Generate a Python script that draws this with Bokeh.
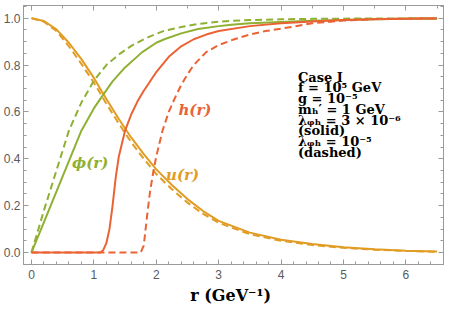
from bokeh.plotting import figure
from bokeh.models import LinearAxis, FixedTicker, PrintfTickFormatter, Label, Range1d
from bokeh.embed import file_html
from bokeh.resources import INLINE

# ---- data ----
u_r = [0, 0.2, 0.4, 0.6, 0.8, 1.0, 1.2, 1.4, 1.6, 1.8, 2.0, 2.25, 2.5, 2.75, 3.0, 3.5, 4.0, 4.5, 5.0, 5.5, 6.0, 6.5]
u_solid = [1.0, 0.988, 0.952, 0.895, 0.825, 0.745, 0.655, 0.57, 0.49, 0.42, 0.355, 0.288, 0.228, 0.177, 0.135, 0.085, 0.055, 0.036, 0.023, 0.014, 0.008, 0.004]
u_dashed = [1.0, 0.985, 0.945, 0.88, 0.805, 0.725, 0.635, 0.55, 0.47, 0.40, 0.335, 0.27, 0.213, 0.165, 0.127, 0.078, 0.05, 0.032, 0.02, 0.012, 0.007, 0.003]

phi_r_s = [0, 0.2, 0.4, 0.6, 0.8, 1.0, 1.12, 1.3, 1.5, 1.77, 2.0, 2.14, 2.4, 2.67, 3.0, 3.2, 3.5, 4.0, 4.5, 5.0, 5.5, 6.0, 6.5]
phi_solid = [0, 0.13, 0.26, 0.39, 0.52, 0.615, 0.662, 0.73, 0.79, 0.854, 0.895, 0.911, 0.935, 0.954, 0.966, 0.972, 0.978, 0.984, 0.989, 0.992, 0.995, 0.997, 0.998]
phi_r_d = [0, 0.2, 0.4, 0.6, 0.8, 1.0, 1.2, 1.4, 1.6, 1.8, 2.0, 2.14, 2.4, 2.67, 3.0, 3.2, 3.5, 4.0, 4.5, 5.0, 6.0, 6.5]
phi_dashed = [0, 0.18, 0.35, 0.52, 0.64, 0.733, 0.8, 0.845, 0.882, 0.91, 0.933, 0.947, 0.962, 0.975, 0.985, 0.989, 0.992, 0.995, 0.997, 0.998, 0.999, 1.0]

h_r_s = [0, 1.1, 1.15, 1.2, 1.25, 1.3, 1.35, 1.4, 1.45, 1.5, 1.6, 1.7, 1.8, 1.9, 2.0, 2.2, 2.4, 2.6, 2.8, 3.0, 3.5, 4.0, 4.5, 5.0, 5.5, 6.0, 6.5]
h_solid = [0, 0, 0.01, 0.04, 0.1, 0.2, 0.32, 0.41, 0.465, 0.52, 0.59, 0.645, 0.69, 0.73, 0.77, 0.835, 0.88, 0.91, 0.93, 0.945, 0.966, 0.978, 0.986, 0.992, 0.995, 0.997, 0.999]
h_r_d = [0, 1.75, 1.8, 1.85, 1.9, 1.95, 2.0, 2.1, 2.2, 2.3, 2.4, 2.5, 2.6, 2.8, 3.0, 3.25, 3.5, 3.75, 4.0, 4.5, 5.0, 5.5, 6.0, 6.5]
h_dashed = [0, 0, 0.03, 0.15, 0.26, 0.34, 0.41, 0.52, 0.6, 0.66, 0.715, 0.76, 0.8, 0.855, 0.885, 0.91, 0.93, 0.945, 0.955, 0.978, 0.99, 0.996, 0.998, 1.0]

x_ticks = [0, 1, 2, 3, 4, 5, 6]
y_ticks = [0.0, 0.2, 0.4, 0.6, 0.8, 1.0]

x_title = "r  (GeV\u207b\u00b9)"
case_lines = ["Case I", "f = 10\u2075 GeV", "g = 10\u207b\u2075", "m\u2095\u2032 = 1 GeV",
              "\u03bb\u1d69\u2095 = 3 \u00d7 10\u207b\u2076", "(solid)", "\u03bb\u1d69\u2095 = 10\u207b\u2075", "(dashed)"]

ORANGE = "#E19C24"
GREEN = "#8FB032"
RED = "#EB6235"
GRAY = "#9a9a9a"
LBL = "#5a5a5a"

p = figure(width=449, height=320, x_range=Range1d(-0.1276, 6.603), y_range=Range1d(-0.051, 1.054),
           output_backend="svg", toolbar_location=None,
           min_border_left=21, min_border_right=6, min_border_top=5, min_border_bottom=56)
p.grid.visible = False
p.outline_line_color = GRAY
p.background_fill_color = "white"

LW = 2
DASH = "7 4"
p.line(u_r, u_dashed, color=ORANGE, line_width=LW, line_dash=DASH)
p.line(u_r, u_solid, color=ORANGE, line_width=LW)
p.line(phi_r_d, phi_dashed, color=GREEN, line_width=LW, line_dash=DASH)
p.line(phi_r_s, phi_solid, color=GREEN, line_width=LW)
p.line(h_r_d, h_dashed, color=RED, line_width=LW, line_dash=DASH)
p.line(h_r_s, h_solid, color=RED, line_width=LW)

minor_x = [round(-0.2 + 0.2 * i, 2) for i in range(40)]
minor_y = [round(-0.05 + 0.05 * i, 2) for i in range(23)]

def style(ax, show_labels):
    ax.axis_line_color = GRAY
    ax.major_tick_line_color = GRAY
    ax.minor_tick_line_color = GRAY
    ax.major_tick_in = 5
    ax.major_tick_out = 0
    ax.minor_tick_in = 3
    ax.minor_tick_out = 0
    if show_labels:
        ax.major_label_text_font = "Liberation Sans"
        ax.major_label_text_font_size = "12px"
        ax.major_label_text_color = LBL
        ax.major_label_standoff = 3
    else:
        ax.major_label_text_font_size = "1px"
        ax.major_label_text_color = None
        ax.major_label_standoff = 0

xb = p.xaxis[0]
xb.ticker = FixedTicker(ticks=x_ticks, minor_ticks=minor_x)
style(xb, True)
xb.major_label_standoff = 5
xb.axis_label = x_title
xb.axis_label_text_font = "DejaVu Serif"
xb.axis_label_text_font_style = "bold"
xb.axis_label_text_font_size = "16px"
xb.axis_label_text_color = "black"
xb.axis_label_standoff = 4

yl = p.yaxis[0]
yl.ticker = FixedTicker(ticks=y_ticks, minor_ticks=minor_y)
yl.formatter = PrintfTickFormatter(format="%.1f")
style(yl, True)

xt = LinearAxis(ticker=FixedTicker(ticks=x_ticks, minor_ticks=[0.5 * i for i in range(14)]))
style(xt, False)
xt.major_label_overrides = {t: "" for t in x_ticks}
p.add_layout(xt, "above")
yr = LinearAxis(ticker=FixedTicker(ticks=y_ticks, minor_ticks=minor_y))
style(yr, False)
yr.major_label_overrides = {t: "" for t in y_ticks}
p.add_layout(yr, "right")

def curve_label(txt, x, y, col):
    p.add_layout(Label(x=x, y=y, text=txt, text_color=col, text_font="DejaVu Serif",
                       text_font_style="bold italic", text_font_size="15px",
                       text_align="center", text_baseline="middle"))

curve_label("\u03d5(r)", 0.94, 0.38, GREEN)
curve_label("u(r)", 2.42, 0.33, ORANGE)
curve_label("h(r)", 2.62, 0.61, RED)

y0 = 0.748
for i, line in enumerate(case_lines):
    p.add_layout(Label(x=4.27, y=y0 - 0.0457 * i, text=line, text_color="black",
                       text_font="DejaVu Serif", text_font_style="bold", text_font_size="13px",
                       text_align="left", text_baseline="middle"))

open("out.html", "w").write(file_html(p, INLINE))
